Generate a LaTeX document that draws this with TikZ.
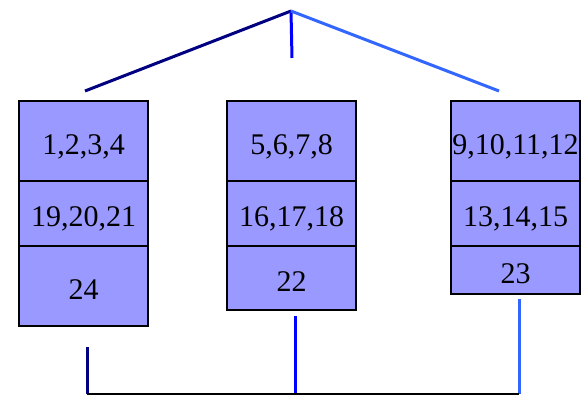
\documentclass[tikz,border=0pt]{standalone}
\usepackage{fontspec}
\setmainfont{Liberation Serif}
\usetikzlibrary{positioning}
\definecolor{cellfill}{RGB}{153,153,255}
\definecolor{navyline}{RGB}{0,0,128}
\definecolor{blueline}{RGB}{0,0,255}
\definecolor{lightline}{RGB}{51,102,255}
\tikzstyle{cell} = [draw=black, line width=2pt, fill=cellfill, minimum width=129pt,
	inner sep=0pt, outer sep=0pt, text height=26pt, text depth=0pt,
	font=\fontsize{30}{30}\selectfont]
\tikzstyle{branch} = [line width=3pt]

\begin{document}
\begin{tikzpicture}[x=1pt,y=-1pt]
		\useasboundingbox (0,0) rectangle (581,396);
		% left column
		\node[cell, minimum height=80pt] (l1) at (83.5,141) {1,2,3,4};
		\node[cell, minimum height=65pt, below=0pt of l1] (l2) {19,20,21};
		\node[cell, minimum height=80pt, below=0pt of l2] (l3) {24};
		% middle column
		\node[cell, minimum height=80pt] (m1) at (291.5,141) {5,6,7,8};
		\node[cell, minimum height=65pt, below=0pt of m1] (m2) {16,17,18};
		\node[cell, minimum height=64pt, below=0pt of m2] (m3) {22};
		% right column
		\node[cell, minimum height=80pt] (r1) at (515.5,141) {9,10,11,12};
		\node[cell, minimum height=65pt, below=0pt of r1] (r2) {13,14,15};
		\node[cell, minimum height=48pt, below=0pt of r2] (r3) {23};
		% tree above
		\coordinate (root) at (291,11);
		\coordinate (ltop) at (85,91);
		\coordinate (mtop) at (292,58);
		\coordinate (rtop) at (499,91);
		\draw[branch, navyline] (root) -- (ltop);
		\draw[branch, blueline] (root) -- (mtop);
		\draw[branch, lightline] (root) -- (rtop);
		% bar below
		\coordinate (lbot) at (87,347);
		\coordinate (mbot) at (295,316);
		\coordinate (rbot) at (519,299);
		\coordinate (lbar) at (87,394);
		\coordinate (mbar) at (295,394);
		\coordinate (rbar) at (519,394);
		\draw[branch, navyline] (lbot) -- (lbar);
		\draw[branch, blueline] (mbot) -- (mbar);
		\draw[branch, lightline] (rbot) -- (rbar);
		\draw[black, line width=2pt] (lbar) -- (rbar);
	\end{tikzpicture}
\end{document}
